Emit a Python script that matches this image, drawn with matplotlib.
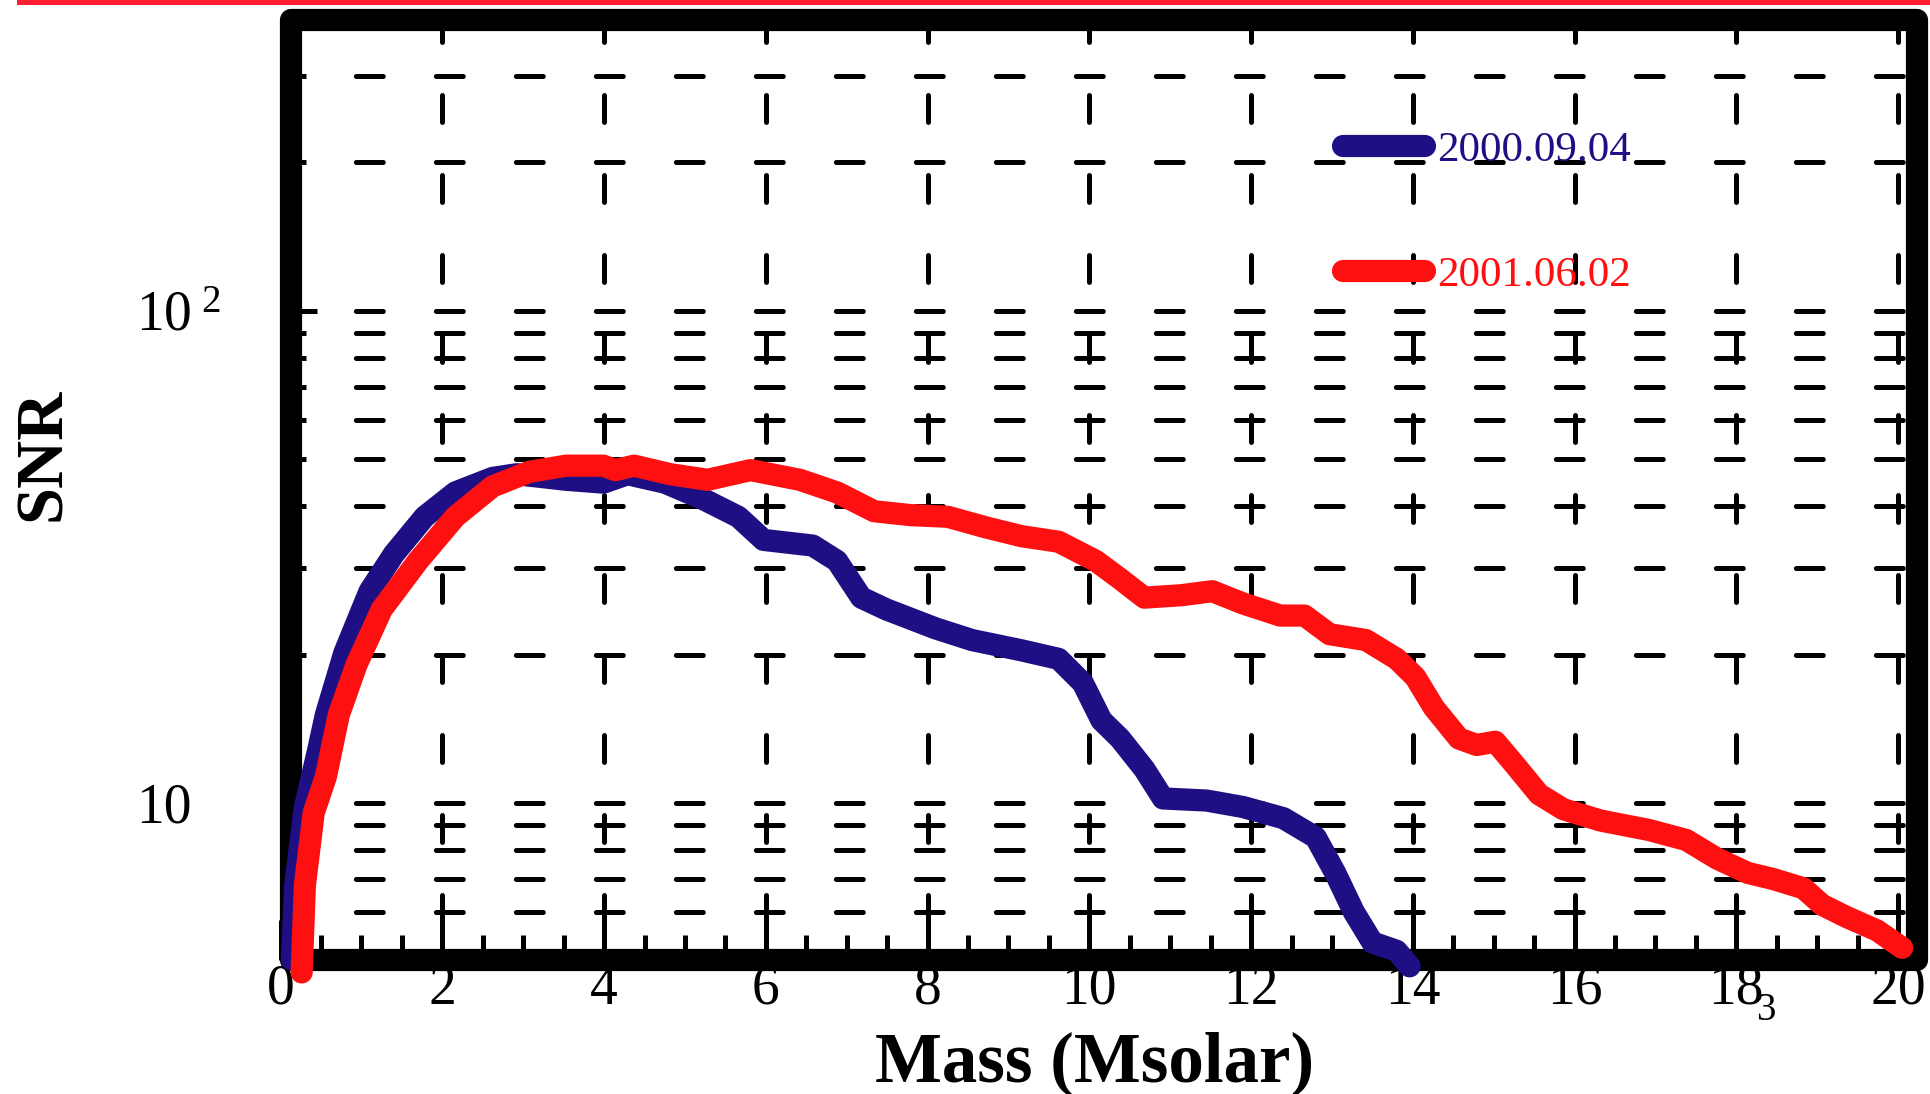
import matplotlib
matplotlib.use("Agg")
import matplotlib.pyplot as plt
import matplotlib.transforms as mtransforms
from matplotlib.patches import Rectangle
from matplotlib.ticker import FixedLocator, MultipleLocator, NullFormatter

plt.rcParams['font.family'] = ['Liberation Serif', 'DejaVu Serif']
plt.rcParams['mathtext.fontset'] = 'custom'
plt.rcParams['mathtext.rm'] = 'Liberation Serif'
plt.rcParams['mathtext.it'] = 'Liberation Serif:italic'
plt.rcParams['lines.scale_dashes'] = False
plt.rcParams['lines.dash_capstyle'] = 'round'

# SNR vs mass
mass_0904 = [0.14, 0.18, 0.30, 0.46, 0.56, 0.79, 1.10, 1.40, 1.78, 2.16, 2.62, 2.92, 3.53, 3.99,
             4.29, 4.75, 5.21, 5.66, 5.97, 6.58, 6.88, 7.18, 7.49, 8.10, 8.55, 9.16, 9.62, 9.92,
             10.15, 10.38, 10.68, 10.91, 11.45, 11.90, 12.40, 12.80, 13.04, 13.27, 13.50, 13.80, 13.96]
snr_0904 = [4.8, 6.8, 9.8, 12.7, 15.1, 20.2, 26.9, 32.0, 38.1, 42.7, 45.7, 46.5, 45.3, 44.7,
            46.5, 44.7, 41.5, 38.1, 34.2, 33.3, 31.0, 26.1, 24.7, 22.6, 21.4, 20.4, 19.6, 17.5,
            14.7, 13.5, 11.7, 10.2, 10.1, 9.8, 9.3, 8.5, 7.2, 6.0, 5.2, 5.0, 4.65]

mass_0602 = [0.26, 0.30, 0.41, 0.56, 0.72, 0.94, 1.25, 1.70, 2.16, 2.62, 3.07, 3.53, 3.99, 4.14,
             4.37, 4.82, 5.28, 5.81, 6.42, 6.88, 7.34, 7.79, 8.25, 8.71, 9.16, 9.62, 10.08, 10.38,
             10.68, 11.14, 11.52, 11.90, 12.36, 12.66, 12.97, 13.42, 13.80, 14.03, 14.26, 14.57,
             14.79, 15.02, 15.25, 15.56, 15.86, 16.32, 16.92, 17.38, 17.76, 18.14, 18.45, 18.83,
             19.06, 19.36, 19.74, 20.05]
snr_0602 = [4.52, 6.8, 9.55, 11.3, 15.1, 19.1, 24.7, 31.0, 38.1, 43.9, 47.0, 48.4, 48.4, 47.4,
            48.4, 46.5, 45.3, 47.4, 45.3, 42.7, 39.1, 38.4, 38.1, 36.3, 34.8, 33.9, 31.0, 28.5,
            26.1, 26.4, 26.9, 25.4, 24.0, 24.0, 22.0, 21.4, 19.6, 18.0, 15.6, 13.5,
            13.1, 13.3, 12.0, 10.4, 9.7, 9.2, 8.8, 8.4, 7.7, 7.2, 7.0, 6.7,
            6.2, 5.86, 5.5, 5.07]

labels = ['2000.09.04', '2001.06.02']
colors = ['#1f0f84', '#ff1010']

x_ticks = list(range(0, 21, 2))
y_major = [10, 100]
y_major_labels = ['10', r'$10^{\ 2}$']
y_minor = [5, 6, 7, 8, 9, 20, 30, 40, 50, 60, 70, 80, 90, 200, 300]

fig = plt.figure(figsize=(19.3, 10.94), dpi=100)
ax = fig.add_axes([0.1454, 0.1229, 0.8477, 0.8591])

ax.plot(mass_0904, snr_0904, color=colors[0], lw=16, solid_capstyle='round',
        solid_joinstyle='round', clip_on=False, zorder=3, label=labels[0])
ax.plot(mass_0602, snr_0602, color=colors[1], lw=16, solid_capstyle='round',
        solid_joinstyle='round', clip_on=False, zorder=4, label=labels[1])

ax.set_yscale('log')
ax.set_xlim(0, 20.23)
ax.set_ylim(4.8, 390)

ax.set_xticks(x_ticks)
ax.xaxis.set_minor_locator(MultipleLocator(0.5))
ax.yaxis.set_major_locator(FixedLocator(y_major))
ax.yaxis.set_minor_locator(FixedLocator(y_minor))
ax.set_yticklabels(y_major_labels)
ax.yaxis.set_minor_formatter(NullFormatter())

ax.tick_params(axis='both', which='both', direction='in', width=3.6, color='black',
               top=False, right=False)
ax.tick_params(axis='x', which='major', length=29, pad=3, labelsize=40)
ax.tick_params(axis='x', which='minor', length=18)
ax.tick_params(axis='y', which='major', length=26, pad=104, labelsize=40)
ax.tick_params(axis='y', which='minor', length=18)
for t in ax.get_yticklabels():
    t.set_ha('left')

ax.set_axisbelow(True)
ax.xaxis.grid(True, which='major', color='black', lw=3.6, linestyle=(30.2, (19.4, 38.2)))
ax.yaxis.grid(True, which='both', color='black', lw=3.6, linestyle=(3.7, (19.4, 38.2)))

# thick frame, sitting a little right of x=0 as in the original
for s in ax.spines.values():
    s.set_visible(False)
frame_tr = mtransforms.blended_transform_factory(ax.transData, ax.transAxes)
ax.add_patch(Rectangle((0.13, 0), 20.23 - 0.13, 1, transform=frame_tr, fill=False, lw=16,
                       edgecolor='black', joinstyle='round', clip_on=False, zorder=2.5))

ax.set_xlabel('Mass (Msolar)', fontsize=51, fontweight='bold')
ax.xaxis.label.set_va('baseline')
ax.xaxis.set_label_coords(0.4974, -0.1300)
ax.set_ylabel('SNR', fontsize=48, fontweight='bold')
ax.yaxis.label.set_va('center')
ax.yaxis.label.set_ha('center')
ax.yaxis.set_label_coords(-0.1450, 0.537)

ax.legend(loc='upper left', bbox_to_anchor=(0.6495, 0.882), frameon=False, fontsize=31,
          handlelength=1.9, handletextpad=0.27, labelspacing=2.0, borderpad=0,
          borderaxespad=0, labelcolor='linecolor')

fig.text(1766 / 1930, 1 - 1010 / 1094, '3', fontsize=28, ha='center', va='center')
fig.add_artist(Rectangle((17 / 1930, 1 - 5 / 1094), 1, 5 / 1094, transform=fig.transFigure,
                         color='#ff1e32', lw=0))

fig.savefig('out.png', dpi=100)
